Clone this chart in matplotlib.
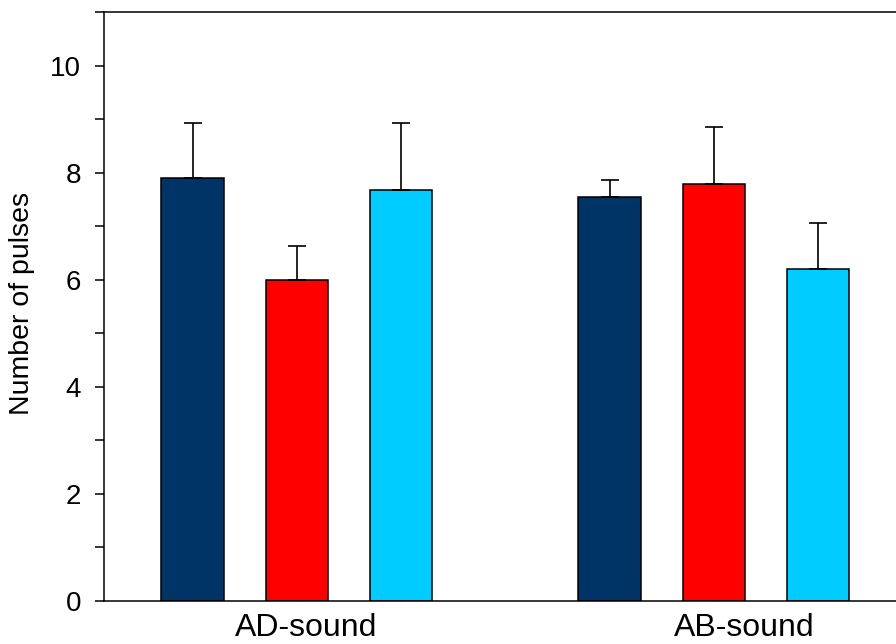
import matplotlib.pyplot as plt
import numpy as np

plt.rcParams['font.family'] = ['Liberation Sans', 'DejaVu Sans']

# valores
grupos = ['AD-sound', 'AB-sound']
medias = [7.90, 6.00, 7.68, 7.55, 7.78, 6.20]
errores = [1.02, 0.63, 1.24, 0.32, 1.08, 0.85]
colores = ['#003366', '#ff0000', '#00ccff', '#003366', '#ff0000', '#00ccff']
posiciones = [0, 1, 2, 4, 5, 6]
pos_etiquetas = [1.09, 5.29]

fig = plt.figure(figsize=(8.96, 6.44), dpi=100)
ax = fig.add_axes([0.1161, 0.0668, 0.9134, 0.9146])

ax.bar(posiciones, medias, width=0.6, color=colores, edgecolor='black', linewidth=1.1, zorder=2)
ax.errorbar(posiciones, medias, yerr=[np.zeros(len(errores)), errores], fmt='none',
            ecolor='black', elinewidth=1.2, capsize=6.5, capthick=1.2, zorder=3)

ax.set_xlim(-0.85, 7.0)
ax.set_ylim(0, 11)
ax.set_yticks([0, 2, 4, 6, 8, 10])
ax.set_yticks([1, 3, 5, 7, 9, 11], minor=True)
ax.tick_params(axis='y', which='both', direction='out', length=6.5, width=1.1, labelsize=20, pad=10)

ax.set_xticks(pos_etiquetas)
ax.set_xticklabels(grupos, fontsize=23)
ax.tick_params(axis='x', which='major', length=0, pad=9)
ax.set_xticks(posiciones, minor=True)
ax.tick_params(axis='x', which='minor', direction='in', length=3, width=0.8, color='0.5')

for s in ax.spines.values():
    s.set_linewidth(1.1)

ax.set_ylabel('Number of pulses', fontsize=20.5)
ax.yaxis.set_label_coords(-0.084, 0.505)

plt.savefig('out.png', dpi=100)
